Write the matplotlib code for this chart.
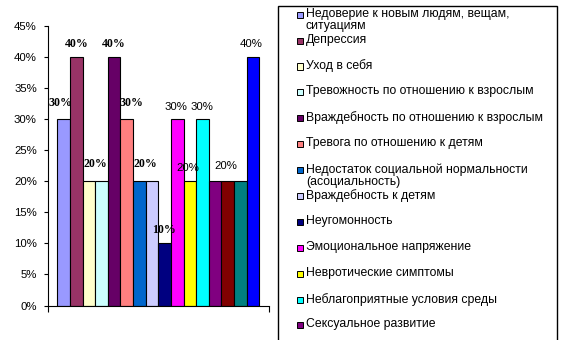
import matplotlib
matplotlib.use("Agg")
import matplotlib.pyplot as plt
from matplotlib.patches import Rectangle
from matplotlib.ticker import PercentFormatter

plt.rcParams['font.family'] = ['Liberation Sans', 'DejaVu Sans']

# data: one bar per factor, share of children (%)
values = [30, 40, 20, 20, 40, 30, 20, 20, 10, 30, 20, 30, 20, 20, 20, 40]
colors = ['#9999FF', '#993366', '#FFFFCC', '#CCFFFF', '#660066', '#FF8080',
          '#0066CC', '#CCCCFF', '#000080', '#FF00FF', '#FFFF00', '#00FFFF',
          '#800080', '#800000', '#008080', '#0000FF']
# legend entries visible in the picture (the rest is cut off below)
legend_labels = [
    "Недоверие к новым людям, вещам,\nситуациям",
    "Депрессия",
    "Уход в себя",
    "Тревожность по отношению к взрослым",
    "Враждебность по отношению к взрослым",
    "Тревога по отношению к детям",
    "Недостаток социальной нормальности\n(асоциальность)",
    "Враждебность к детям",
    "Неугомонность",
    "Эмоциональное напряжение",
    "Невротические симптомы",
    "Неблагоприятные условия среды",
    "Сексуальное развитие",
]
# which bars show a value label, and whether it is the bold serif kind
label_bars = [0, 1, 2, 4, 5, 6, 8, 9, 10, 11, 13, 15]
label_bold = [True, True, True, True, True, True, True,
              False, False, False, False, False]
# label offsets from the bar top, in pixels (dx, dy)
label_offsets = [(-3, 16), (0, 13), (6, 17), (0, 13), (5, 16), (6, 17),
                 (-1, 13), (-1, 12), (-2, 13), (-1, 12), (-2, 15), (-2, 13)]

W, H = 565, 340
fig = plt.figure(figsize=(W / 100, H / 100), dpi=100)
ax = fig.add_axes([48 / W, 1 - 305.5 / H, 221 / W, 279.5 / H])

xs = list(range(len(values)))
ax.bar(xs, values, width=1.0, color=colors, edgecolor='black',
       linewidth=0.8, zorder=3)

ax.set_ylim(0, 45)
ax.set_xlim(-1.24, 16.27)
ax.set_yticks(range(0, 50, 5))
ax.yaxis.set_major_formatter(PercentFormatter(decimals=0))
ax.set_xticks([-1.24, 16.27])
ax.set_xticklabels([])
ax.tick_params(axis='y', length=3, width=0.8, labelsize=8.2, pad=5)
ax.tick_params(axis='x', length=4.5, width=0.8)
for side in ['top', 'right']:
    ax.spines[side].set_visible(False)
for side in ['left', 'bottom']:
    ax.spines[side].set_linewidth(0.8)
ax.spines['bottom'].set_zorder(4)

# value labels, drawn over the bars
for i, bold, (dx, dy) in zip(label_bars, label_bold, label_offsets):
    if bold:
        kw = dict(family='Liberation Serif', fontweight='bold', fontsize=8.6)
    else:
        kw = dict(fontsize=8.2)
    ax.annotate(f"{values[i]}%", (xs[i], values[i]),
                xytext=(dx * 0.72, dy * 0.72), textcoords='offset points',
                ha='center', va='center', zorder=5, **kw)

# legend box, running off the bottom of the image
fig.patches.append(Rectangle((278 / W, -0.1), 279 / W, 1.1 - 6 / H,
                             transform=fig.transFigure, fill=False,
                             edgecolor='black', linewidth=1))
for k, (lab, col) in enumerate(zip(legend_labels, colors)):
    yc = 14.7 + 25.9 * k
    fig.patches.append(Rectangle((296.5 / W, 1 - (yc + 3) / H), 6 / W, 6 / H,
                                 transform=fig.transFigure, facecolor=col,
                                 edgecolor='black', linewidth=0.7))
    fig.text(306 / W, 1 - (yc - 7) / H, lab, fontsize=8.8, va='top',
             ha='left', linespacing=1.05)

fig.savefig("out.png", dpi=100)
